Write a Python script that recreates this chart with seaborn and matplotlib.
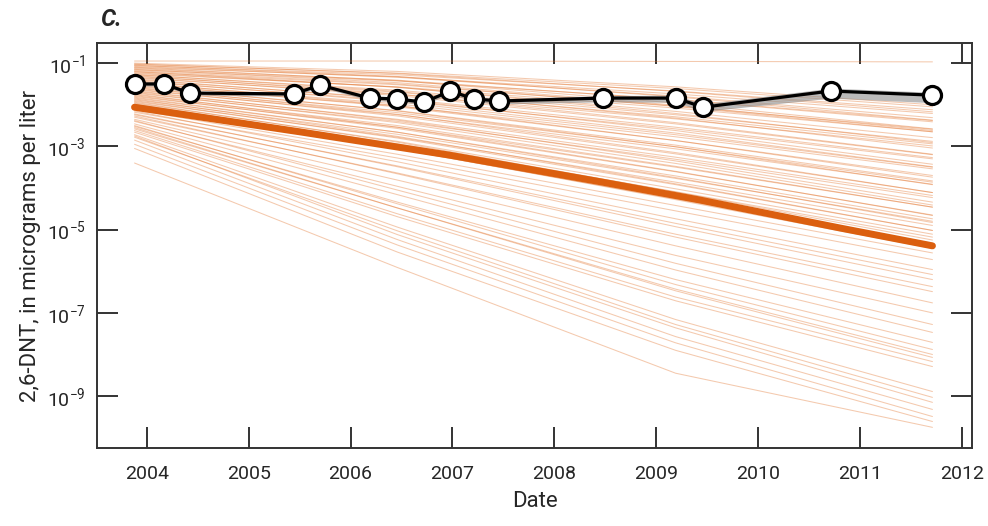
import numpy as np
import pandas as pd
import matplotlib
matplotlib.use("Agg")
import matplotlib.pyplot as plt
from matplotlib import font_manager
import seaborn as sns

# Fechas de muestreo (años decimales)
obs_dates = [2003.88, 2004.17, 2004.42, 2005.44, 2005.70, 2006.19, 2006.46, 2006.72,
             2006.98, 2007.21, 2007.46, 2008.48, 2009.19, 2009.46, 2010.71, 2011.71]
# log10 de la concentración observada y banda gris
obs_log = [-1.50, -1.50, -1.72, -1.74, -1.53, -1.84, -1.86, -1.94,
           -1.67, -1.86, -1.91, -1.84, -1.84, -2.06, -1.67, -1.77]
band_hi = [-1.46, -1.46, -1.68, -1.70, -1.49, -1.80, -1.82, -1.89,
           -1.62, -1.81, -1.86, -1.78, -1.77, -1.98, -1.60, -1.70]
band_lo = [-1.55, -1.55, -1.77, -1.79, -1.58, -1.90, -1.92, -2.00,
           -1.73, -1.93, -1.98, -1.93, -1.94, -2.16, -1.84, -1.95]

# Línea central (gruesa)
med_dates = [2003.88, 2005.50, 2006.97, 2008.45, 2009.43, 2010.80, 2011.71]
med_log = [-2.06, -2.65, -3.21, -3.85, -4.29, -4.96, -5.39]

# Conjunto de simulaciones: log10 en 4 fechas
ens_dates = [2003.88, 2006.46, 2009.19, 2011.71]
ens_start = [-0.95, -1.00, -1.02, -1.03, -1.05, -1.06, -1.08, -1.10, -1.11, -1.13, -1.15,
             -1.16, -1.18, -1.20, -1.21, -1.23, -1.25, -1.27, -1.28, -1.30, -1.32,
             -1.34, -1.36, -1.38, -1.40, -1.42, -1.44, -1.46, -1.48, -1.50, -1.52,
             -1.54, -1.56, -1.58, -1.60, -1.62, -1.64, -1.66, -1.68, -1.70, -1.72,
             -1.74, -1.76, -1.78, -1.80, -1.82, -1.84, -1.86, -1.88, -1.90, -1.92,
             -1.94, -1.96, -1.98, -2.00, -2.03, -2.06,
             -2.12, -2.18, -2.15, -2.24, -2.22, -2.30, -2.27, -2.35, -2.40, -2.38,
             -2.46, -2.52, -2.50, -2.58, -2.55, -2.62, -2.66, -2.72, -2.78, -2.75,
             -2.85, -2.95, -3.05, -3.40]
ens_2006 = [-0.95, -1.20, -1.25, -1.24, -1.32, -1.28, -1.34, -1.33, -1.42, -1.41, -1.47,
            -1.43, -1.50, -1.58, -1.52, -1.58, -1.57, -1.68, -1.65, -1.74, -1.70,
            -1.78, -1.75, -1.87, -1.85, -1.93, -1.90, -2.02, -1.98, -2.05, -2.03,
            -2.15, -2.14, -2.23, -2.19, -2.27, -2.24, -2.37, -2.35, -2.43, -2.40,
            -2.54, -2.50, -2.57, -2.54, -2.66, -2.66, -2.76, -2.71, -2.80, -2.78,
            -2.90, -2.88, -2.97, -2.94, -3.05, -3.06,
            -3.19, -3.28, -3.37, -3.47, -3.49, -3.64, -3.66, -3.81, -3.96, -4.05,
            -4.16, -4.34, -4.38, -4.48, -4.48, -4.62, -4.69, -4.94, -5.03, -5.12,
            -5.24, -5.37, -5.54, -5.91]
ens_2009 = [-0.96, -1.57, -1.68, -1.61, -1.81, -1.67, -1.79, -1.74, -1.96, -1.88, -2.01,
            -1.87, -2.04, -2.21, -2.03, -2.16, -2.08, -2.32, -2.24, -2.43, -2.29,
            -2.46, -2.34, -2.62, -2.54, -2.68, -2.58, -2.86, -2.72, -2.86, -2.77,
            -3.01, -2.97, -3.15, -3.01, -3.18, -3.06, -3.35, -3.26, -3.41, -3.31,
            -3.60, -3.48, -3.61, -3.50, -3.75, -3.71, -3.90, -3.77, -3.92, -3.86,
            -4.10, -4.02, -4.17, -4.09, -4.28, -4.26,
            -4.42, -4.55, -4.74, -4.85, -4.93, -5.11, -5.18, -5.39, -5.62, -5.81,
            -5.97, -6.20, -6.32, -6.43, -6.47, -6.62, -6.71, -7.16, -7.28, -7.36,
            -7.57, -7.72, -7.90, -8.45]
ens_end = [-0.97, -2.00, -2.17, -2.05, -2.37, -2.12, -2.31, -2.21, -2.58, -2.41, -2.62,
           -2.38, -2.65, -2.91, -2.59, -2.79, -2.65, -3.04, -2.88, -3.19, -2.94,
           -3.20, -2.99, -3.43, -3.27, -3.49, -3.30, -3.74, -3.50, -3.70, -3.54,
           -3.92, -3.83, -4.11, -3.86, -4.11, -3.91, -4.34, -4.18, -4.41, -4.23,
           -4.66, -4.46, -4.65, -4.46, -4.83, -4.74, -5.02, -4.80, -5.02, -4.90,
           -5.25, -5.11, -5.33, -5.18, -5.45, -5.40,
           -5.56, -5.72, -5.96, -6.08, -6.20, -6.37, -6.49, -6.76, -7.00, -7.28,
           -7.47, -7.71, -7.88, -8.00, -8.07, -8.17, -8.29, -8.89, -9.03, -9.15,
           -9.32, -9.49, -9.61, -9.75]

year_ticks = [2004, 2005, 2006, 2007, 2008, 2009, 2010, 2011, 2012]
exp_ticks = [-1, -3, -5, -7, -9]

# Tabla larga para seaborn
rows = []
for i in range(len(ens_start)):
    vals = [ens_start[i], ens_2006[i], ens_2009[i], ens_end[i]]
    for d, v in zip(ens_dates, vals):
        rows.append({'run': i, 'fecha': d, 'conc': 10.0 ** v})
df_ens = pd.DataFrame(rows)

sns.set_style('ticks')
names = {f.name for f in font_manager.fontManager.ttflist}
narrow = 'Liberation Sans Narrow' if 'Liberation Sans Narrow' in names else 'Roboto'
plt.rcParams['font.family'] = [narrow, 'DejaVu Sans']
plt.rcParams['mathtext.fontset'] = 'custom'
plt.rcParams['mathtext.rm'] = narrow
plt.rcParams['mathtext.it'] = narrow + ':italic'

fig = plt.figure(figsize=(9.88, 5.26), dpi=100)
ax = fig.add_axes([0.098, 0.148, 0.886, 0.770])
ax.set_yscale('log')

sns.lineplot(data=df_ens, x='fecha', y='conc', units='run', estimator=None,
             color='#E2722A', alpha=0.38, lw=0.75, legend=False, ax=ax, zorder=2)

sns.lineplot(x=med_dates, y=10.0 ** np.array(med_log), color='#DB5F0F', lw=5,
             ax=ax, zorder=3)

ax.fill_between(obs_dates, 10.0 ** np.array(band_lo), 10.0 ** np.array(band_hi),
                color='#8c8c8c', alpha=0.6, lw=0, zorder=4)
sns.lineplot(x=obs_dates, y=10.0 ** np.array(obs_log), color='black', lw=2.3,
             marker='o', markersize=13, markerfacecolor='white',
             markeredgecolor='black', markeredgewidth=2.3, ax=ax, zorder=5)

ax.set_xlim(2003.51, 2012.1)
ax.set_ylim(10 ** -10.25, 10 ** -0.52)
ax.set_xticks(year_ticks)
ax.set_xticklabels([str(y) for y in year_ticks])
ax.set_yticks([10.0 ** e for e in exp_ticks])
ax.set_yticklabels([r'$\mathregular{10^{%d}}$' % e for e in exp_ticks])
ax.yaxis.set_minor_locator(matplotlib.ticker.NullLocator())

ax.tick_params(axis='both', which='major', direction='in', length=15, width=1.4,
               top=True, right=True, labelsize=14, color='#333333')
ax.tick_params(axis='x', pad=12)
ax.tick_params(axis='y', pad=8)
for sp in ax.spines.values():
    sp.set_visible(True)
    sp.set_linewidth(1.4)
    sp.set_color('#333333')

ax.set_xlabel('Date', fontsize=16, labelpad=6)
ax.set_ylabel('2,6-DNT, in micrograms per liter', fontsize=16, labelpad=4)
fig.text(0.101, 0.962, 'C.', fontsize=17, fontweight='bold', fontstyle='italic',
         ha='left', va='center')

fig.savefig('out.png', dpi=100)
